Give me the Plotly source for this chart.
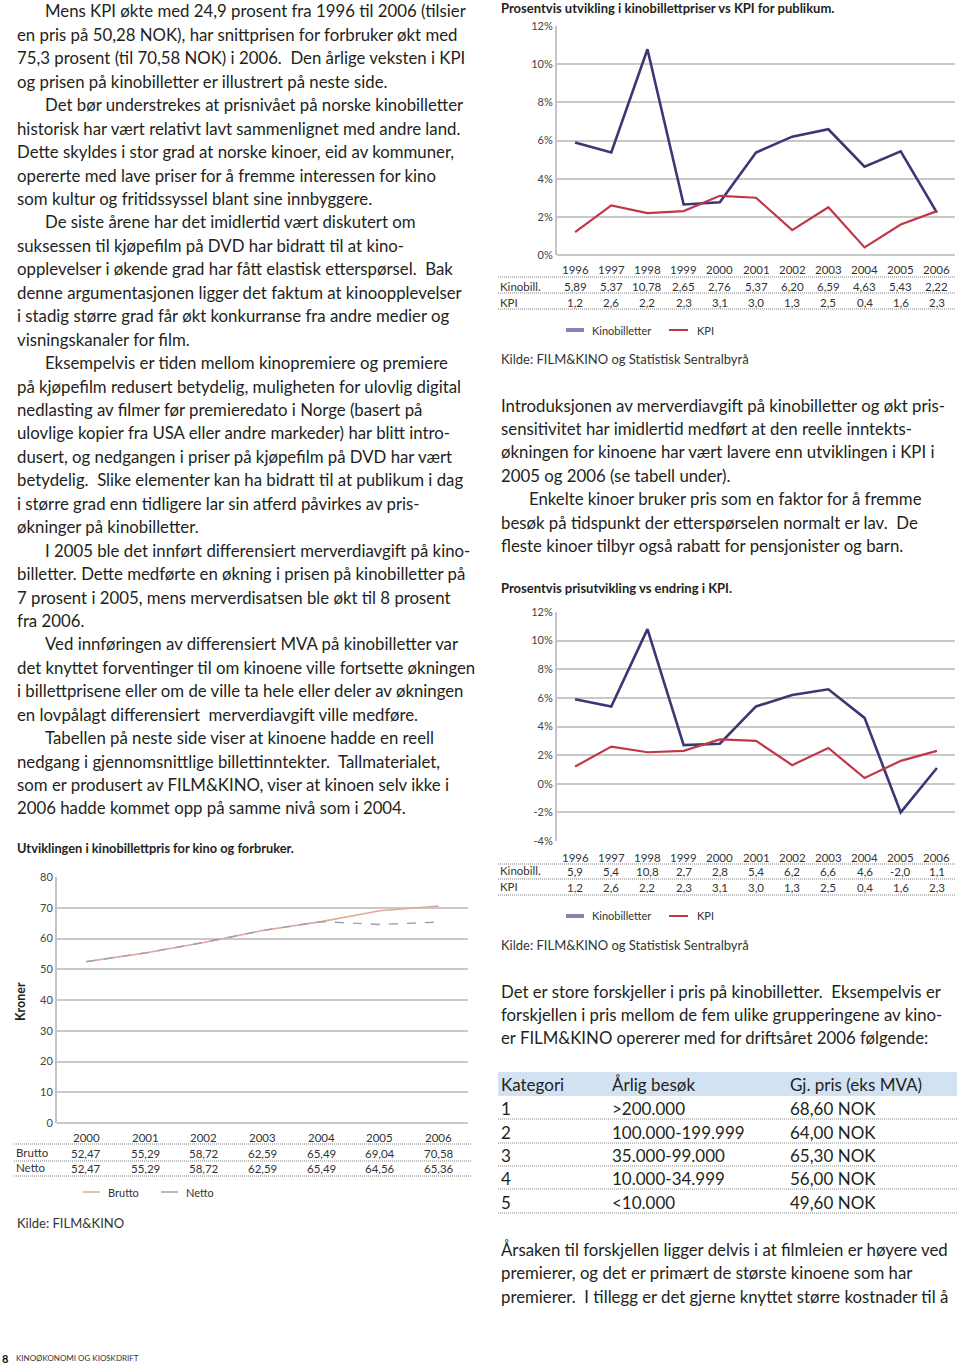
import plotly.graph_objects as go

W, H = 960, 1365
FONT = "Lato"
TXT = "#231f20"
GRID = "#c9c9c9"
NAVY = "#3a3874"
RED = "#c03848"
BODY = 16.8

def px(x):
    return x / W

def py(y):
    return 1 - y / H

# ---------------- data ----------------
years1 = [1996, 1997, 1998, 1999, 2000, 2001, 2002, 2003, 2004, 2005, 2006]
kino1 = [5.89, 5.37, 10.78, 2.65, 2.76, 5.37, 6.20, 6.59, 4.63, 5.43, 2.22]
kpi1 = [1.2, 2.6, 2.2, 2.3, 3.1, 3.0, 1.3, 2.5, 0.4, 1.6, 2.3]

years2 = [1996, 1997, 1998, 1999, 2000, 2001, 2002, 2003, 2004, 2005, 2006]
kino2 = [5.9, 5.4, 10.8, 2.7, 2.8, 5.4, 6.2, 6.6, 4.6, -2.0, 1.1]
kpi2 = [1.2, 2.6, 2.2, 2.3, 3.1, 3.0, 1.3, 2.5, 0.4, 1.6, 2.3]
ticks2 = [-4, -2, 0, 2, 4, 6, 8, 10, 12]
ticklabels2 = ["-4%", "-2%", "0%", "2%", "4%", "6%", "8%", "10%", "12%"]

years3 = [2000, 2001, 2002, 2003, 2004, 2005, 2006]
brutto = [52.47, 55.29, 58.72, 62.59, 65.49, 69.04, 70.58]
netto = [52.47, 55.29, 58.72, 62.59, 65.49, 64.56, 65.36]

kategori = ["1", "2", "3", "4", "5"]
besok = [">200.000", "100.000-199.999", "35.000-99.000", "10.000-34.999", "<10.000"]
pris = [68.60, 64.00, 65.30, 56.00, 49.60]

left_text = [
    (True, "Mens KPI økte med 24,9 prosent fra 1996 til 2006 (tilsier"),
    (False, "en pris på 50,28 NOK), har snittprisen for forbruker økt med"),
    (False, "75,3 prosent (til 70,58 NOK) i 2006.  Den årlige veksten i KPI"),
    (False, "og prisen på kinobilletter er illustrert på neste side."),
    (True, "Det bør understrekes at prisnivået på norske kinobilletter"),
    (False, "historisk har vært relativt lavt sammenlignet med andre land."),
    (False, "Dette skyldes i stor grad at norske kinoer, eid av kommuner,"),
    (False, "opererte med lave priser for å fremme interessen for kino"),
    (False, "som kultur og fritidssyssel blant sine innbyggere."),
    (True, "De siste årene har det imidlertid vært diskutert om"),
    (False, "suksessen til kjøpefilm på DVD har bidratt til at kino-"),
    (False, "opplevelser i økende grad har fått elastisk etterspørsel.  Bak"),
    (False, "denne argumentasjonen ligger det faktum at kinoopplevelser"),
    (False, "i stadig større grad får økt konkurranse fra andre medier og"),
    (False, "visningskanaler for film."),
    (True, "Eksempelvis er tiden mellom kinopremiere og premiere"),
    (False, "på kjøpefilm redusert betydelig, muligheten for ulovlig digital"),
    (False, "nedlasting av filmer før premieredato i Norge (basert på"),
    (False, "ulovlige kopier fra USA eller andre markeder) har blitt intro-"),
    (False, "dusert, og nedgangen i priser på kjøpefilm på DVD har vært"),
    (False, "betydelig.  Slike elementer kan ha bidratt til at publikum i dag"),
    (False, "i større grad enn tidligere lar sin atferd påvirkes av pris-"),
    (False, "økninger på kinobilletter."),
    (True, "I 2005 ble det innført differensiert merverdiavgift på kino-"),
    (False, "billetter. Dette medførte en økning i prisen på kinobilletter på"),
    (False, "7 prosent i 2005, mens merverdisatsen ble økt til 8 prosent"),
    (False, "fra 2006."),
    (True, "Ved innføringen av differensiert MVA på kinobilletter var"),
    (False, "det knyttet forventinger til om kinoene ville fortsette økningen"),
    (False, "i billettprisene eller om de ville ta hele eller deler av økningen"),
    (False, "en lovpålagt differensiert  merverdiavgift ville medføre."),
    (True, "Tabellen på neste side viser at kinoene hadde en reell"),
    (False, "nedgang i gjennomsnittlige billettinntekter.  Tallmaterialet,"),
    (False, "som er produsert av FILM&KINO, viser at kinoen selv ikke i"),
    (False, "2006 hadde kommet opp på samme nivå som i 2004."),
]

right_text1 = [
    (False, "Introduksjonen av merverdiavgift på kinobilletter og økt pris-"),
    (False, "sensitivitet har imidlertid medført at den reelle inntekts-"),
    (False, "økningen for kinoene har vært lavere enn utviklingen i KPI i"),
    (False, "2005 og 2006 (se tabell under)."),
    (True, "Enkelte kinoer bruker pris som en faktor for å fremme"),
    (False, "besøk på tidspunkt der etterspørselen normalt er lav.  De"),
    (False, "fleste kinoer tilbyr også rabatt for pensjonister og barn."),
]
right_text2 = [
    (False, "Det er store forskjeller i pris på kinobilletter.  Eksempelvis er"),
    (False, "forskjellen i pris mellom de fem ulike grupperingene av kino-"),
    (False, "er FILM&KINO opererer med for driftsåret 2006 følgende:"),
]
right_text3 = [
    (False, "Årsaken til forskjellen ligger delvis i at filmleien er høyere ved"),
    (False, "premierer, og det er primært de største kinoene som har"),
    (False, "premierer.  I tillegg er det gjerne knyttet større kostnader til å"),
]

# ---------------- helpers ----------------
annotations = []
shapes = []


def esc(s):
    return s.replace("&", "&amp;").replace("<", "&lt;").replace(">", "&gt;")


def txt(x, y, s, size=11, color="#333333", bold=False, xanchor="left",
        xref="paper", angle=0):
    t = esc(s)
    if bold:
        t = "<b>" + t + "</b>"
    annotations.append(dict(
        x=px(x) if xref == "paper" else x, y=py(y), xref=xref, yref="paper",
        text=t, showarrow=False, xanchor=xanchor, yanchor="middle",
        textangle=angle, font=dict(family=FONT, size=size, color=color)))


def dotted(x0, x1, y, color="#808080"):
    shapes.append(dict(type="line", xref="paper", yref="paper",
                       x0=px(x0), x1=px(x1), y0=py(y), y1=py(y),
                       line=dict(color=color, width=1, dash="1px,1px")))


def swatch(x0, x1, y, color, width):
    shapes.append(dict(type="line", xref="paper", yref="paper",
                       x0=px(x0), x1=px(x1), y0=py(y), y1=py(y),
                       line=dict(color=color, width=width)))


def paragraph(lines, x, y0, dy, size=BODY, indent=28):
    for i, (ind, s) in enumerate(lines):
        txt(x + (indent if ind else 0), y0 + i * dy, s, size=size, color=TXT)


def fmt(v, d):
    return f"{v:.{d}f}".replace(".", ",")


fig = go.Figure()

# ---------------- chart 1 ----------------
fig.add_trace(go.Scatter(x=years1, y=kino1, mode="lines", xaxis="x", yaxis="y",
                         line=dict(color=NAVY, width=2.6), showlegend=False))
fig.add_trace(go.Scatter(x=years1, y=kpi1, mode="lines", xaxis="x", yaxis="y",
                         line=dict(color=RED, width=2.2), showlegend=False))
txt(499, 8, "Prosentvis utvikling i kinobillettpriser vs KPI for publikum.",
    size=13, bold=True, color=TXT)
for i, yv in enumerate(years1):
    txt(yv, 270, str(yv), size=11.5, xanchor="center", xref="x")
    txt(yv, 286, fmt(kino1[i], 2), size=11.5, xanchor="center", xref="x")
    txt(yv, 302, fmt(kpi1[i], 1), size=11.5, xanchor="center", xref="x")
txt(498, 286, "Kinobill.", size=11.5)
txt(498, 302, "KPI", size=11.5)
for yy in (277, 293, 309):
    dotted(498, 955, yy)
swatch(566, 584, 330, "#8686b4", 4)
txt(590, 330, "Kinobilletter", size=11)
swatch(669, 688, 330, RED, 2)
txt(695, 330, "KPI", size=11)
txt(499, 359, "Kilde: FILM&KINO og Statistisk Sentralbyrå", size=13)

# ---------------- chart 2 ----------------
fig.add_trace(go.Scatter(x=years2, y=kino2, mode="lines", xaxis="x2", yaxis="y2",
                         line=dict(color=NAVY, width=2.6), showlegend=False))
fig.add_trace(go.Scatter(x=years2, y=kpi2, mode="lines", xaxis="x2", yaxis="y2",
                         line=dict(color=RED, width=2.2), showlegend=False))
txt(499, 588, "Prosentvis prisutvikling vs endring i KPI.", size=13, bold=True, color=TXT)
for i, yv in enumerate(years2):
    txt(yv, 857, str(yv), size=11.5, xanchor="center", xref="x2")
    txt(yv, 872, fmt(kino2[i], 1), size=11.5, xanchor="center", xref="x2")
    txt(yv, 887, fmt(kpi2[i], 1), size=11.5, xanchor="center", xref="x2")
txt(498, 871, "Kinobill.", size=11.5)
txt(498, 886, "KPI", size=11.5)
for yy in (864, 879, 895):
    dotted(498, 955, yy)
swatch(566, 584, 916, "#8686b4", 4)
txt(590, 916, "Kinobilletter", size=11)
swatch(669, 688, 916, RED, 2)
txt(695, 916, "KPI", size=11)
txt(499, 945, "Kilde: FILM&KINO og Statistisk Sentralbyrå", size=13)

# ---------------- chart 3 ----------------
fig.add_trace(go.Scatter(x=years3, y=brutto, mode="lines", xaxis="x3", yaxis="y3",
                         line=dict(color="#e2a898", width=1.6), showlegend=False))
fig.add_trace(go.Scatter(x=years3, y=netto, mode="lines", xaxis="x3", yaxis="y3",
                         line=dict(color="#9aa0b4", width=1.4, dash="dash"),
                         showlegend=False))
txt(15, 848, "Utviklingen i kinobillettpris for kino og forbruker.", size=12.8,
    bold=True, color=TXT)
txt(21, 1002, "Kroner", size=12.5, bold=True, color=TXT, xanchor="center", angle=-90)
for i, yv in enumerate(years3):
    txt(yv, 1137, str(yv), size=11.5, xanchor="center", xref="x3")
    txt(yv, 1153, fmt(brutto[i], 2), size=11.5, xanchor="center", xref="x3")
    txt(yv, 1168, fmt(netto[i], 2), size=11.5, xanchor="center", xref="x3")
txt(14, 1152, "Brutto", size=11.5)
txt(14, 1167, "Netto", size=11.5)
for yy in (1144, 1161, 1176):
    dotted(14, 472, yy)
swatch(83, 100, 1192, "#e2a898", 1.5)
txt(106, 1192, "Brutto", size=11)
swatch(161, 178, 1192, "#9aa0b4", 1.5)
txt(184, 1192, "Netto", size=11)
txt(15, 1223, "Kilde: FILM&KINO", size=13)

# ---------------- body text ----------------
paragraph(left_text, 15, 11, 23.44)
paragraph(right_text1, 499, 405, 23.4)
paragraph(right_text2, 499, 991, 23.3)
paragraph(right_text3, 499, 1249, 23.5)

# ---------------- category table ----------------
shapes.append(dict(type="rect", xref="paper", yref="paper", x0=px(498), x1=px(957),
                   y0=py(1096), y1=py(1072), fillcolor="#d3e2f3",
                   line=dict(width=0), layer="below"))
TS = 17
txt(499, 1084, "Kategori", size=TS, color=TXT)
txt(610, 1084, "Årlig besøk", size=TS, color=TXT)
txt(788, 1084, "Gj. pris (eks MVA)", size=TS, color=TXT)
row_y = [1108, 1132, 1155, 1178, 1202]
for i in range(5):
    txt(499, row_y[i], kategori[i], size=TS, color=TXT)
    txt(610, row_y[i], besok[i], size=TS, color=TXT)
    txt(788, row_y[i], fmt(pris[i], 2) + " NOK", size=TS, color=TXT)
    dotted(498, 957, row_y[i] + 11, color="#8a8a8a")

# ---------------- footer ----------------
txt(0, 1358, "8", size=11, bold=True, color="#111111")
txt(14, 1358, "KINOØKONOMI OG KIOSKDRIFT", size=8, color="#333333")

# ---------------- layout ----------------
def yax(dom, rng, dtick, suffix, anchor):
    return dict(domain=dom, range=rng, dtick=dtick, ticksuffix=suffix,
                showgrid=True, gridcolor=GRID, gridwidth=2,
                zeroline=True, zerolinecolor=GRID, zerolinewidth=2,
                showline=True, linecolor="#c4c4c4", linewidth=2,
                ticks="", tickfont=dict(family=FONT, size=11, color="#444444"),
                anchor=anchor, fixedrange=True, automargin=False)


def xax(dom, rng, anchor):
    return dict(domain=dom, range=rng, showgrid=False, zeroline=False,
                showline=False, showticklabels=False, ticks="", anchor=anchor,
                fixedrange=True, automargin=False)


y2 = yax([py(841), py(612)], [-4, 12], 2, "", "x2")
y2.update(tickmode="array", tickvals=ticks2, ticktext=ticklabels2)

fig.update_layout(
    width=W, height=H,
    margin=dict(l=0, r=0, t=0, b=0, pad=0, autoexpand=False),
    paper_bgcolor="white", plot_bgcolor="white",
    showlegend=False,
    font=dict(family=FONT, color="#333333"),
    xaxis=xax([px(557), px(955)], [1995.5, 2006.5], "y"),
    yaxis=yax([py(255), py(26)], [0, 12], 2, "%", "x"),
    xaxis2=xax([px(557), px(955)], [1995.5, 2006.5], "y2"),
    yaxis2=y2,
    xaxis3=xax([px(57), px(468)], [1999.5, 2006.5], "y3"),
    yaxis3=yax([py(1123), py(877)], [0, 80], 10, "", "x3"),
    annotations=annotations,
    shapes=shapes,
)

css = ("html,body{margin:0!important;padding:0!important;overflow:hidden!important;"
       "width:960px!important;height:1365px!important;}"
       ".plotly-graph-div{position:absolute!important;top:0!important;left:0!important;}")
post = ("var s=document.createElement('style');s.innerHTML='" + css + "';"
        "document.head.appendChild(s);window.scrollTo(0,0);")

fig.write_html("out.html", config={"displayModeBar": False}, post_script=post)
